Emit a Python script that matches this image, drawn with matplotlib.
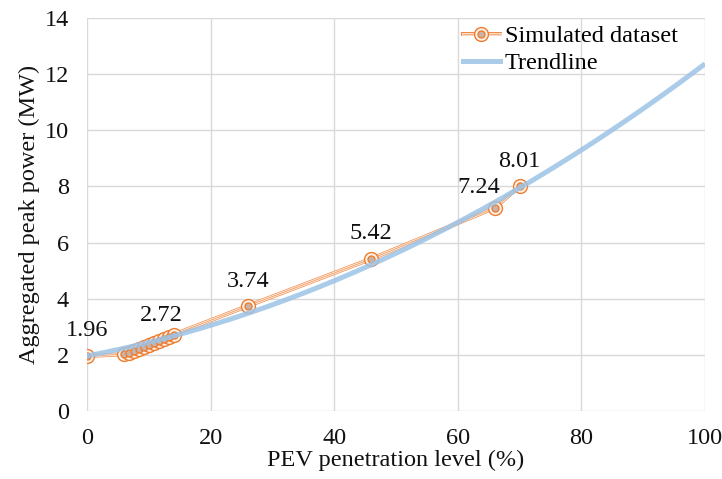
import numpy as np
import matplotlib
matplotlib.use('Agg')
import matplotlib.pyplot as plt
import matplotlib.patheffects as pe
from matplotlib.lines import Line2D

# ---- data ----
penetration = [0, 6.0, 6.8, 7.6, 8.4, 9.2, 10.0, 10.8, 11.6, 12.4, 13.2, 14.0, 26, 46, 66, 70]
peak_power = [1.96, 2.02, 2.08, 2.14, 2.21, 2.28, 2.35, 2.42, 2.49, 2.57, 2.64, 2.72, 3.74, 5.42, 7.24, 8.01]
labelled_idx = [0, 11, 12, 13, 14, 15]
trend_intercept = 1.96   # polynomial trendline (order 2) with set intercept
x_ticks = [0, 20, 40, 60, 80, 100]
y_ticks = [0, 2, 4, 6, 8, 10, 12, 14]

# label offsets in points (dx, dy)
label_offsets = {0: (0, 18.5), 11: (-8.5, 13.5), 12: (0, 18), 13: (0, 18), 14: (-11.5, 14.5), 15: (0, 17.5)}

ORANGE = '#ED7D31'
BLUE = '#9DC3E6'
FS = 17.5

plt.rcParams['font.family'] = ['Liberation Serif', 'DejaVu Serif']
plt.rcParams['font.size'] = FS

fig = plt.figure(figsize=(7.22, 4.79), dpi=100)
ax = fig.add_axes([0.1205, 0.142, 0.8560, 0.8204])

# compound (triple) line
line_effects = [pe.Stroke(linewidth=2.9, foreground='#F08A45'),
                pe.Stroke(linewidth=2.0, foreground='#FCE8DA'),
                pe.Normal()]
ax.plot(penetration, peak_power, color='#F08A45', lw=0.45, path_effects=line_effects, zorder=3)
# double-circle markers
ax.plot(penetration, peak_power, ls='none', marker='o', ms=10, mfc='#FDF0E7', mec=ORANGE,
        mew=1.0, zorder=4)
ax.plot(penetration, peak_power, ls='none', marker='o', ms=5, mfc='#C9B3A8', mec=ORANGE,
        mew=1.0, zorder=5)

# trendline: least-squares quadratic with fixed intercept
px = np.asarray(penetration, float)
py = np.asarray(peak_power, float) - trend_intercept
A = np.column_stack([px ** 2, px])
(a2, a1), *_ = np.linalg.lstsq(A, py, rcond=None)
tx = np.linspace(0, 100, 300)
ax.plot(tx, a2 * tx ** 2 + a1 * tx + trend_intercept, color=BLUE, lw=3.6, alpha=0.85,
        zorder=6, solid_capstyle='butt')

for i in labelled_idx:
    dx, dy = label_offsets[i]
    ax.annotate(f'{peak_power[i]:.2f}', (penetration[i], peak_power[i]),
                xytext=(dx, dy), textcoords='offset points', ha='center', va='center',
                fontsize=FS, color='#111111', zorder=7)

ax.set_xlim(0, 100)
ax.set_ylim(0, 14)
ax.set_xticks(x_ticks)
ax.set_yticks(y_ticks)
ax.grid(True, color='#D9D9D9', lw=1.0)
ax.set_axisbelow(True)
for s in ax.spines.values():
    s.set_visible(False)
ax.tick_params(length=0, labelsize=FS, colors='#111111')
ax.tick_params(axis='y', pad=13)
ax.tick_params(axis='x', pad=12)
ax.set_xlabel('PEV penetration level (%)', fontsize=FS, labelpad=1, color='#111111')
ax.set_ylabel('Aggregated peak power (MW)', fontsize=FS, labelpad=3, color='#111111')

# legend
h_data = (Line2D([], [], color='#F08A45', lw=0.45, path_effects=line_effects),
          Line2D([], [], ls='none', marker='o', ms=10, mfc='#FDF0E7', mec=ORANGE, mew=1.0),
          Line2D([], [], ls='none', marker='o', ms=5, mfc='#C9B3A8', mec=ORANGE, mew=1.0))
h_trend = Line2D([], [], color=BLUE, lw=3.6, alpha=0.85)
leg = ax.legend([h_data, h_trend], ['Simulated dataset', 'Trendline'], loc='upper right',
                bbox_to_anchor=(0.976, 1.012), frameon=False, fontsize=FS, handlelength=1.55,
                handletextpad=0.2, labelspacing=0.2, borderaxespad=0.1)

fig.savefig('out.png', dpi=100)
